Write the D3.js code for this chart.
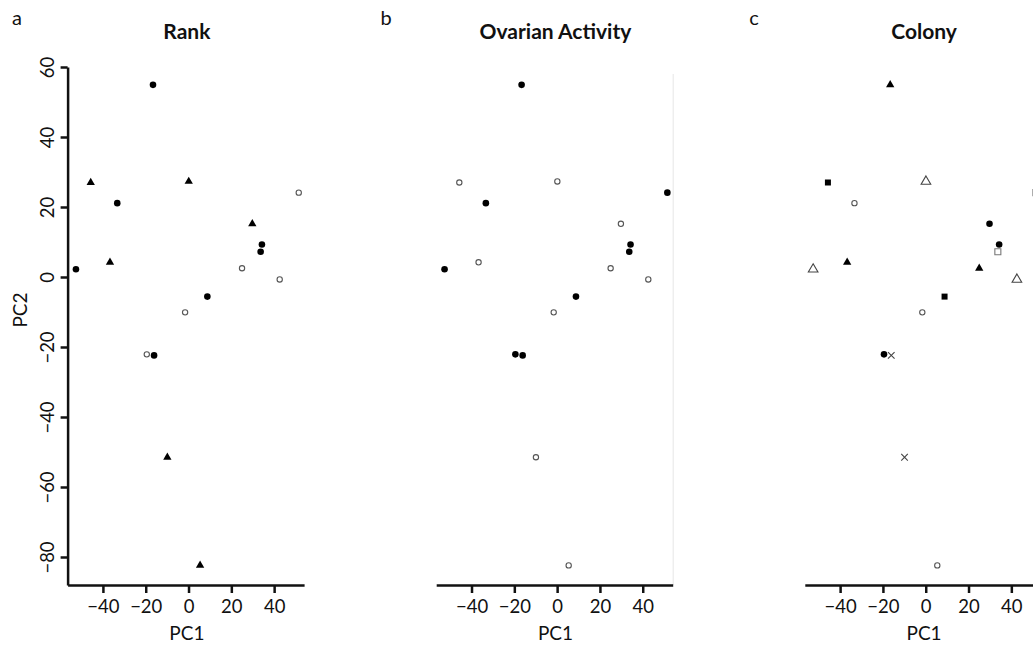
<!DOCTYPE html>
<html>
<head>
<meta charset="utf-8">
<script src="https://cdn.jsdelivr.net/npm/d3@7"></script>
<style>
  body { margin: 0; background: #fff; }
  svg { display: block; font-family: Lato, "Open Sans", sans-serif; }
</style>
</head>
<body>
<div id="chart"></div>
<script>
const WIDTH = 1033;
const HEIGHT = 646;

// --------------- Data ---------------
const pc1 = [-16.6, -45.7, -33.3, 0.1, 51.5, 29.8, 34.3, 33.7, -36.7,
             -52.6, 25.0, 42.6, 8.8, -1.6, -19.5, -16.1, -9.9, 5.4];
const pc2 = [54.9, 27.0, 21.1, 27.3, 24.1, 15.2, 9.3, 7.2, 4.2,
             2.2, 2.5, -0.7, -5.6, -10.1, -22.1, -22.4, -51.5, -82.4];

const rank = ["R2", "R1", "R2", "R1", "R3", "R1", "R2", "R2", "R1",
              "R2", "R3", "R3", "R2", "R3", "R3", "R2", "R1", "R1"];
const ovary = ["active", "inactive", "active", "inactive", "active", "inactive",
               "active", "active", "inactive", "active", "inactive", "inactive",
               "active", "inactive", "active", "active", "inactive", "inactive"];
const colony = ["A", "B", "C", "D", "F", "E", "E", "F", "A",
                "D", "A", "D", "B", "C", "E", "G", "G", "C"];

const panelLetters = ["a", "b", "c"];
const panelTitles = ["Rank", "Ovarian Activity", "Colony"];
const xTicks = [-40, -20, 0, 20, 40];
const yTicks = [-80, -60, -40, -20, 0, 20, 40, 60];

// marker looks for each group
const filledCircle = { type: d3.symbolCircle, size: 34, fill: "#000", stroke: "none" };
const openCircle = { type: d3.symbolCircle, size: 22, fill: "#fff", stroke: "#555" };
const filledTri = { type: d3.symbolTriangle, size: 30, fill: "#000", stroke: "none" };
const openTri = { type: d3.symbolTriangle, size: 40, fill: "#fff", stroke: "#444" };
const filledSq = { type: d3.symbolSquare, size: 36, fill: "#000", stroke: "none" };
const openSq = { type: d3.symbolSquare, size: 36, fill: "#fff", stroke: "#777" };
const cross = { type: d3.symbolTimes, size: 30, fill: "none", stroke: "#444" };

const rankStyle = { R1: filledTri, R2: filledCircle, R3: openCircle };
const ovaryStyle = { active: filledCircle, inactive: openCircle };
const colonyStyle = { A: filledTri, B: filledSq, C: openCircle, D: openTri,
                      E: filledCircle, F: openSq, G: cross };

const panels = [
  { groups: rank, style: rankStyle },
  { groups: ovary, style: ovaryStyle },
  { groups: colony, style: colonyStyle }
];

const points = pc1.map((x, i) => ({ x: x, y: pc2[i], i: i }));

// --------------- Scales ---------------
const PANEL_STEP = 368.6;
const x = d3.scaleLinear().domain([-56.5, 54]).range([67.6, 304.1]);
const y = d3.scaleLinear().domain([-88, 60]).range([585, 67]);

const svg = d3.select("#chart")
  .append("svg")
  .attr("width", WIDTH)
  .attr("height", HEIGHT);

panels.forEach(function(p, k) {
  const g = svg.append("g").attr("transform", `translate(${k * PANEL_STEP},0)`);
  const midX = (x.range()[0] + x.range()[1]) / 2;

  g.append("text")
    .attr("x", 12)
    .attr("y", 25)
    .attr("font-size", 20)
    .attr("fill", "#111")
    .text(panelLetters[k]);

  g.append("text")
    .attr("x", midX + 1)
    .attr("y", 39)
    .attr("text-anchor", "middle")
    .attr("font-size", 21)
    .attr("font-weight", "bold")
    .attr("fill", "#111")
    .text(panelTitles[k]);

  // faint frame line on the right side (panels b and c)
  if (k > 0) {
    g.append("line")
      .attr("x1", x.range()[1] + 0.5).attr("x2", x.range()[1] + 0.5)
      .attr("y1", 74).attr("y2", y(-88))
      .attr("stroke", "#e6e6e6")
      .attr("stroke-width", 1);
  }

  // x axis
  const xAxis = g.append("g")
    .attr("transform", `translate(0,${y(-88)})`)
    .call(d3.axisBottom(x).tickValues(xTicks).tickSize(8).tickSizeOuter(0).tickPadding(7));
  xAxis.select(".domain").attr("stroke", "#111").attr("stroke-width", 2.5);
  xAxis.selectAll(".tick line").attr("stroke", "#111").attr("stroke-width", 2.5);
  xAxis.selectAll(".tick text")
    .attr("font-size", 18.5)
    .attr("font-family", "Lato, 'Open Sans', sans-serif")
    .attr("fill", "#111");

  g.append("text")
    .attr("x", midX + 1)
    .attr("y", 640)
    .attr("text-anchor", "middle")
    .attr("font-size", 19)
    .attr("fill", "#111")
    .text("PC1");

  // y axis only on the first panel
  if (k === 0) {
    const yAxis = g.append("g")
      .attr("transform", `translate(${x.range()[0]},0)`)
      .call(d3.axisLeft(y).tickValues(yTicks).tickSize(7).tickSizeOuter(0));
    yAxis.select(".domain").attr("stroke", "#111").attr("stroke-width", 2.5);
    yAxis.selectAll(".tick line").attr("stroke", "#111").attr("stroke-width", 2.5);
    yAxis.selectAll(".tick text")
      .attr("x", null)
      .attr("dy", null)
      .attr("text-anchor", "middle")
      .attr("transform", "translate(-14,0) rotate(-90)")
      .attr("font-size", 18.5)
      .attr("font-family", "Lato, 'Open Sans', sans-serif")
      .attr("fill", "#111");

    g.append("text")
      .attr("transform", "translate(27,310) rotate(-90)")
      .attr("text-anchor", "middle")
      .attr("font-size", 19)
      .attr("fill", "#111")
      .text("PC2");
  }

  // points
  g.append("g")
    .selectAll("path")
    .data(points)
    .enter()
    .append("path")
    .attr("transform", d => `translate(${x(d.x)},${y(d.y)})`)
    .attr("d", d => {
      const s = p.style[p.groups[d.i]];
      return d3.symbol().type(s.type).size(s.size)();
    })
    .attr("fill", d => p.style[p.groups[d.i]].fill)
    .attr("stroke", d => p.style[p.groups[d.i]].stroke)
    .attr("stroke-width", 1.1);
});
</script>
</body>
</html>
